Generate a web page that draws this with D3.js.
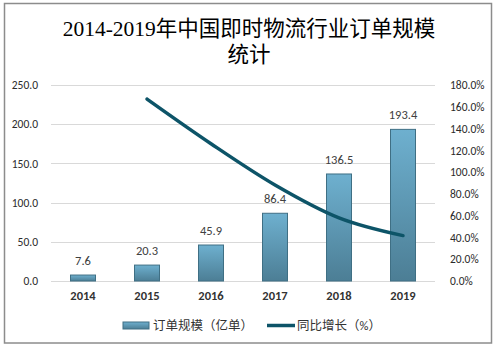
<!DOCTYPE html>
<html>
<head>
<meta charset="utf-8">
<script src="https://d3js.org/d3.v7.min.js"></script>
<style>
  body { margin: 0; background: #fff; }
  text { font-family: Calibri, "Liberation Sans", "Noto Sans CJK SC", sans-serif; }
</style>
</head>
<body>
<div id="vis"></div>
<script>
// data
var years = ["2014", "2015", "2016", "2017", "2018", "2019"];
var orders = [7.6, 20.3, 45.9, 86.4, 136.5, 193.4];
var growth = [null, 167.1, 126.1, 88.2, 58.0, 41.7];
var leftTicks = [0, 50, 100, 150, 200, 250];
var rightTicks = [0, 20, 40, 60, 80, 100, 120, 140, 160, 180];
var titleLines = ["2014-2019年中国即时物流行业订单规模", "统计"];
var legendNames = ["订单规模（亿单）", "同比增长（%）"];

var width = 497, height = 347;
var svg = d3.select("#vis").append("svg")
    .attr("width", width)
    .attr("height", height);

// outer frame
svg.append("rect")
    .attr("x", 4.5).attr("y", 3.5)
    .attr("width", 487).attr("height", 339.5)
    .attr("fill", "none")
    .attr("stroke", "#8c8c8c")
    .attr("stroke-width", 1.5);

// title
svg.append("g").selectAll("text")
    .data(titleLines)
    .enter().append("text")
    .attr("x", 249)
    .attr("y", function (d, i) { return 36 + i * 26; })
    .attr("text-anchor", "middle")
    .style("font-family", "'Liberation Serif', 'Noto Sans CJK SC', serif")
    .style("font-size", "21.5px")
    .attr("fill", "#000")
    .text(function (d) { return d; });

var plotL = 51, plotR = 435, plotT = 85, plotB = 281;

var x = d3.scaleBand().domain(years).range([plotL, plotR]);
var y = d3.scaleLinear().domain([0, 250]).range([plotB, plotT]);
var y2 = d3.scaleLinear().domain([0, 180]).range([plotB, plotT]);

// grid
svg.append("g").selectAll("line")
    .data(leftTicks)
    .enter().append("line")
    .attr("x1", plotL).attr("x2", plotR)
    .attr("y1", function (d) { return Math.round(y(d)) + 0.5; })
    .attr("y2", function (d) { return Math.round(y(d)) + 0.5; })
    .attr("stroke", "#d9d9d9")
    .attr("stroke-width", 1);

// left axis
var yAxis = svg.append("g")
    .attr("transform", "translate(" + (plotL - 10) + ",0)")
    .call(d3.axisLeft(y).tickValues(leftTicks).tickSize(0).tickFormat(d3.format(".1f")));
yAxis.select(".domain").remove();
yAxis.selectAll("text")
    .style("font-size", "11.5px")
    .attr("fill", "#2b2b2b");

// right axis
var y2Axis = svg.append("g")
    .attr("transform", "translate(" + (plotR + 12) + ",0)")
    .call(d3.axisRight(y2).tickValues(rightTicks).tickSize(0)
        .tickFormat(function (d) { return d.toFixed(1) + "%"; }));
y2Axis.select(".domain").remove();
y2Axis.selectAll("text")
    .style("font-size", "11.5px")
    .attr("fill", "#2b2b2b");

// x axis labels
var xAxis = svg.append("g")
    .attr("transform", "translate(0," + plotB + ")")
    .call(d3.axisBottom(x).tickSize(0).tickPadding(10));
xAxis.select(".domain").remove();
xAxis.selectAll("text")
    .style("font-size", "12.5px")
    .style("font-weight", "bold")
    .attr("fill", "#333");

// bar gradient
var defs = svg.append("defs");
var grad = defs.append("linearGradient")
    .attr("id", "barGrad")
    .attr("x1", 0).attr("y1", 0).attr("x2", 0).attr("y2", 1);
grad.append("stop").attr("offset", "0%").attr("stop-color", "#6eb0cf");
grad.append("stop").attr("offset", "100%").attr("stop-color", "#4c7e95");

var barW = 25;
svg.append("g").selectAll("rect")
    .data(orders)
    .enter().append("rect")
    .attr("x", function (d, i) { return x(years[i]) + x.bandwidth() / 2 - barW / 2; })
    .attr("y", function (d) { return y(d); })
    .attr("width", barW)
    .attr("height", function (d) { return plotB - y(d); })
    .attr("fill", "url(#barGrad)")
    .attr("stroke", "#3f6f84")
    .attr("stroke-width", 1);

// bar labels
svg.append("g").selectAll("text")
    .data(orders)
    .enter().append("text")
    .attr("x", function (d, i) { return x(years[i]) + x.bandwidth() / 2; })
    .attr("y", function (d) { return y(d) - 10; })
    .attr("text-anchor", "middle")
    .style("font-size", "12.5px")
    .attr("fill", "#404040")
    .text(function (d) { return d.toFixed(1); });

// growth line
var lineData = growth.map(function (g, i) { return { year: years[i], v: g }; })
    .filter(function (d) { return d.v !== null; });
var line = d3.line()
    .x(function (d) { return x(d.year) + x.bandwidth() / 2; })
    .y(function (d) { return y2(d.v); })
    .curve(d3.curveMonotoneX);
svg.append("path")
    .datum(lineData)
    .attr("d", line)
    .attr("fill", "none")
    .attr("stroke", "#0d5468")
    .attr("stroke-width", 3.5)
    .attr("stroke-linecap", "round");

// legend
var lg = svg.append("g");
lg.append("rect")
    .attr("x", 123).attr("y", 322)
    .attr("width", 26).attr("height", 7)
    .attr("fill", "url(#barGrad)")
    .attr("stroke", "#3f6f84");
lg.append("text")
    .attr("x", 153).attr("y", 330)
    .style("font-size", "12.5px")
    .attr("fill", "#333")
    .text(legendNames[0]);
lg.append("line")
    .attr("x1", 267).attr("x2", 295)
    .attr("y1", 325.5).attr("y2", 325.5)
    .attr("stroke", "#0d5468")
    .attr("stroke-width", 3.5);
lg.append("text")
    .attr("x", 297).attr("y", 330)
    .style("font-size", "12.5px")
    .attr("fill", "#333")
    .text(legendNames[1]);
</script>
</body>
</html>
